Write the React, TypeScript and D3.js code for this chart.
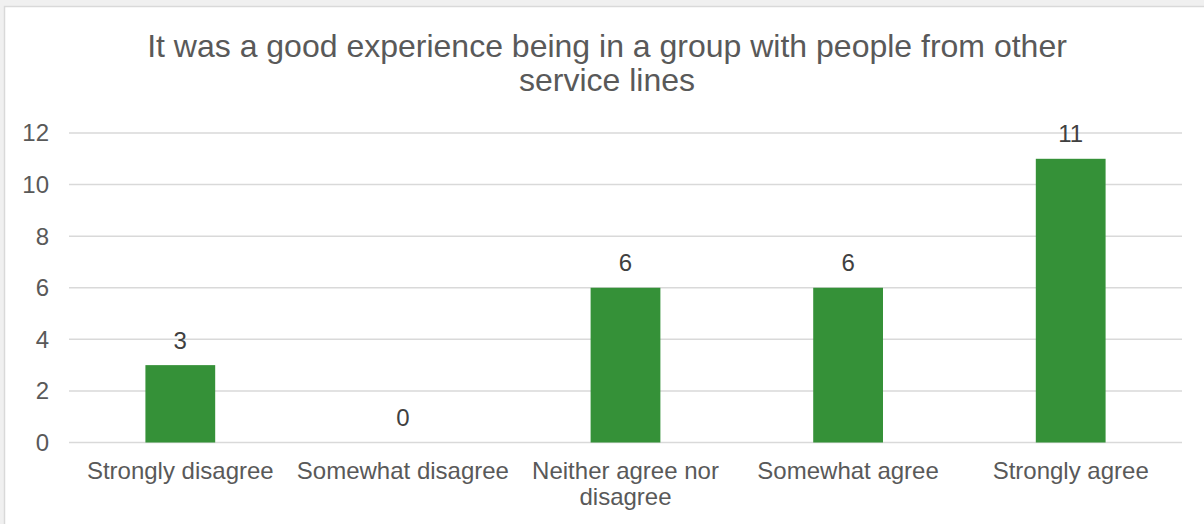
import React, { useEffect, useRef } from "react";
import * as d3 from "d3";

const categories = [
  "Strongly disagree",
  "Somewhat disagree",
  "Neither agree nor disagree",
  "Somewhat agree",
  "Strongly agree",
];
const values = [3, 0, 6, 6, 11];
const yTicks = [0, 2, 4, 6, 8, 10, 12];
const titleLines = [
  "It was a good experience being in a group with people from other",
  "service lines",
];

const W = 1204;
const H = 524;
const FONT = "'Liberation Sans', Arial, sans-serif";

export default function App() {
  const ref = useRef<SVGSVGElement>(null);

  useEffect(() => {
    const svg = d3.select(ref.current);
    svg.selectAll("*").remove();

    // background & chart frame
    svg.append("rect").attr("x", 0).attr("y", 0).attr("width", W).attr("height", H).attr("fill", "#f0f0f0");
    svg
      .append("rect")
      .attr("x", 4.5)
      .attr("y", 6.5)
      .attr("width", W + 20)
      .attr("height", H + 20)
      .attr("fill", "#ffffff")
      .attr("stroke", "#d9d9d9")
      .attr("stroke-width", 1.5);

    const left = 69;
    const right = 1182;
    const top = 133;
    const bottom = 442.5;

    const x = d3.scaleBand<string>().domain(categories).range([left, right]).paddingInner(0).paddingOuter(0);
    const y = d3.scaleLinear().domain([0, 12]).range([bottom, top]);

    // title
    const title = svg
      .append("text")
      .attr("x", 607)
      .attr("text-anchor", "middle")
      .attr("font-family", FONT)
      .attr("font-size", 32)
      .attr("fill", "#595959");
    titleLines.forEach((l, i) => {
      title.append("tspan").attr("x", 607).attr("y", 56.5 + i * 34.5).text(l);
    });

    // gridlines
    svg
      .append("g")
      .selectAll("line")
      .data(yTicks)
      .join("line")
      .attr("x1", left)
      .attr("x2", right)
      .attr("y1", (d) => y(d))
      .attr("y2", (d) => y(d))
      .attr("stroke", "#d9d9d9")
      .attr("stroke-width", 1.5);

    // y tick labels
    svg
      .append("g")
      .selectAll("text")
      .data(yTicks)
      .join("text")
      .attr("x", 49)
      .attr("y", (d) => y(d))
      .attr("dy", "0.35em")
      .attr("text-anchor", "end")
      .attr("font-family", FONT)
      .attr("font-size", 24)
      .attr("fill", "#595959")
      .text((d) => String(d));

    // bars
    const bw = x.bandwidth() / 3.19;
    svg
      .append("g")
      .selectAll("rect")
      .data(values)
      .join("rect")
      .attr("x", (d, i) => (x(categories[i]) as number) + x.bandwidth() / 2 - bw / 2)
      .attr("width", bw)
      .attr("y", (d) => y(d))
      .attr("height", (d) => bottom - y(d))
      .attr("fill", "#359138");

    // data labels
    svg
      .append("g")
      .selectAll("text")
      .data(values)
      .join("text")
      .attr("x", (d, i) => (x(categories[i]) as number) + x.bandwidth() / 2)
      .attr("y", (d) => y(d) - 16.5)
      .attr("text-anchor", "middle")
      .attr("font-family", FONT)
      .attr("font-size", 24)
      .attr("fill", "#404040")
      .text((d) => String(d));

    // x labels with wrapping
    const maxW = x.bandwidth() - 6;
    categories.forEach((c) => {
      const cx = (x(c) as number) + x.bandwidth() / 2;
      const t = svg
        .append("text")
        .attr("text-anchor", "middle")
        .attr("font-family", FONT)
        .attr("font-size", 24)
        .attr("fill", "#595959");
      const words = c.split(" ");
      const lines: string[] = [];
      let cur: string[] = [];
      const probe = t.append("tspan").attr("x", cx);
      words.forEach((w) => {
        const test = [...cur, w].join(" ");
        probe.text(test);
        const len = (probe.node() as SVGTSpanElement).getComputedTextLength();
        if (len > maxW && cur.length) {
          lines.push(cur.join(" "));
          cur = [w];
        } else {
          cur.push(w);
        }
      });
      if (cur.length) lines.push(cur.join(" "));
      probe.remove();
      lines.forEach((l, i) => {
        t.append("tspan").attr("x", cx).attr("y", 479 + i * 26).text(l);
      });
    });
  }, []);

  return (
    <svg
      ref={ref}
      width={W}
      height={H}
      style={{ position: "absolute", left: 0, top: 0, display: "block" }}
    />
  );
}
